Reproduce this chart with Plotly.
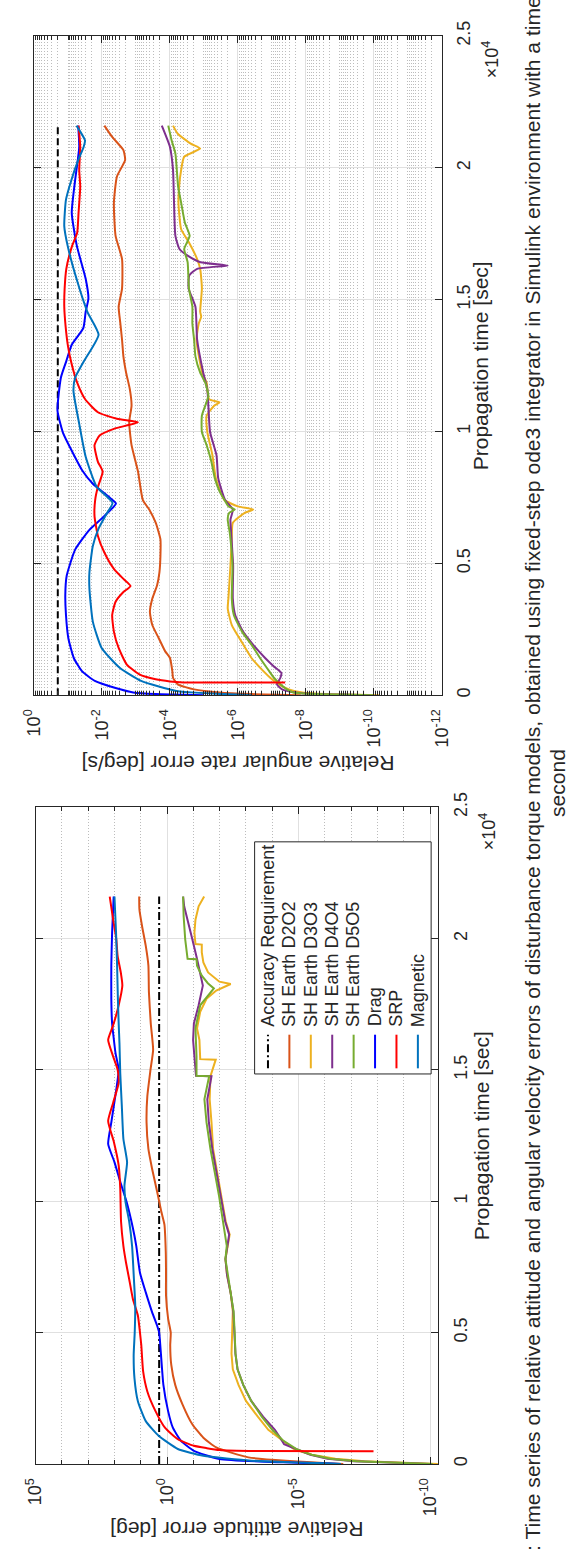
import numpy as np
import plotly.graph_objects as go

# ---------------------------------------------------------------------------
# Page geometry (pixels) -> paper coordinates
# ---------------------------------------------------------------------------
W, H = 580, 1551


def fx(px):
    return px / W


def fy(py):
    return 1 - py / H


FONT = "Liberation Sans, Arial, Helvetica, sans-serif"
INK = "#262626"

# ---------------------------------------------------------------------------
# Series names / colours (plot order = legend order)
# ---------------------------------------------------------------------------
names = ["Accuracy Requirement", "SH Earth D2O2", "SH Earth D3O3", "SH Earth D4O4",
         "SH Earth D5O5", "Drag", "SRP", "Magnetic"]
colors = ["#000000", "#D95319", "#EDB120", "#7E2F8E", "#77AC30", "#0000FF", "#FF0000", "#0072BD"]

# ---------------------------------------------------------------------------
# Relative attitude error [deg]  (time in s, error given as log10 of value)
# ---------------------------------------------------------------------------
att_req_t = [0, 21600]
att_req = [2.0, 2.0]

att_d2o2_t = [0, 250, 630, 1000, 1510, 2260, 3010, 3770, 4520, 5000, 5530, 6410, 7280, 8100, 9110,
              9610, 10240, 11240, 11990, 13000, 14000, 15010, 15770, 16770, 17960, 18970, 19720,
              20470, 21100, 21600]
att_d2o2_log = [-6.7, -3.09, -1.87, -1.38, -0.96, -0.59, -0.31, -0.16, -0.12, -0.14, -0.04, 0.04,
                0.04, 0.05, 0.10, 0.22, 0.35, 0.57, 0.71, 0.78, 0.75, 0.63, 0.53, 0.62, 0.69, 0.71,
                0.81, 0.95, 1.05, 1.06]

att_d3o3_t = [0, 40, 100, 200, 350, 550, 900, 1300, 1800, 2400, 3000, 3600, 4200, 5000, 5800, 6500,
              7200, 7800, 8300, 8730, 9230, 10240, 11120, 11990, 13000, 13880, 14760, 15390, 15410,
              16140, 16580, 17210, 17710, 18020, 18270, 18360, 18710, 19090, 19470, 19770, 19790,
              20220, 20720, 21230, 21600]
att_d3o3_log = [-10.3, -8.8, -7.5, -6.4, -5.5, -4.85, -4.4, -3.85, -3.45, -3.0, -2.72, -2.5, -2.45,
                -2.48, -2.5, -2.42, -2.28, -2.22, -2.3, -2.38, -2.23, -2.05, -1.88, -1.75, -1.69,
                -1.62, -1.65, -1.85, -1.26, -1.23, -1.14, -1.26, -1.50, -1.87, -2.42, -1.99, -1.56,
                -1.38, -1.32, -1.32, -1.08, -1.04, -1.08, -1.2, -1.41]

att_d4o4_t = [0, 40, 100, 200, 350, 550, 750, 1000, 1300, 1800, 2400, 3000, 3600, 4200, 5000, 5800,
              6500, 7200, 7800, 8300, 8730, 9230, 10240, 11120, 11990, 13000, 13880, 14760, 14780,
              15510, 16140, 16770, 17460, 18210, 18710, 19220, 19970, 20720, 21230, 21600]
att_d4o4_log = [-10.0, -8.4, -7.1, -6.1, -5.45, -4.95, -4.45, -4.3, -4.1, -3.65, -3.2, -2.9, -2.68,
                -2.6, -2.57, -2.52, -2.42, -2.28, -2.22, -2.3, -2.36, -2.21, -2.03, -1.87, -1.72,
                -1.59, -1.53, -1.69, -1.10, -1.04, -0.99, -1.02, -1.20, -1.36, -1.26, -1.14, -0.96,
                -0.77, -0.65, -0.61]

att_d5o5_t = [0, 40, 100, 200, 350, 550, 900, 1300, 1800, 2400, 3000, 3600, 4200, 5000, 5800, 6500,
              7200, 7800, 8300, 9230, 10240, 11120, 11990, 13000, 13880, 14760, 14780, 15510, 16140,
              16580, 17460, 18100, 18300, 18590, 18970, 19210, 19230, 19970, 20850, 21600]
att_d5o5_log = [-10.1, -8.5, -7.2, -6.2, -5.5, -4.95, -4.4, -4.0, -3.6, -3.2, -2.9, -2.68, -2.6,
                -2.57, -2.53, -2.42, -2.3, -2.22, -2.27, -2.14, -1.97, -1.81, -1.65, -1.50, -1.42,
                -1.60, -1.12, -1.12, -1.08, -1.08, -1.26, -1.78, -1.55, -1.32, -1.14, -1.12, -0.78,
                -0.69, -0.63, -0.61]

att_drag_t = [0, 60, 190, 500, 880, 1380, 2010, 3010, 4140, 5000, 5270, 5780, 6530, 7280, 8290, 8980,
              9980, 10740, 11490, 12180, 13000, 14260, 15010, 15640, 16390, 16770, 17710, 18970,
              20220, 21600]
att_drag_log = [-6.61, -4.42, -1.99, -1.02, -0.53, -0.22, -0.04, 0.14, 0.23, 0.30, 0.38, 0.57, 0.81,
                1.03, 1.17, 1.30, 1.54, 1.78, 2.0, 2.24, 2.12, 1.93, 1.84, 1.96, 2.05, 2.09, 2.12,
                2.12, 2.09, 2.03]

att_srp_t = [480, 490, 530, 600, 690, 940, 1380, 2010, 2760, 3520, 4520, 5000, 5650, 6280, 7030,
             7660, 8290, 9230, 10490, 11370, 12250, 13060, 13750, 14510, 15010, 15510, 16140, 16510,
             16700, 17460, 18210, 18710, 19340, 19970, 20720, 21600]
att_srp_log = [-7.85, -3.5, -2.0, -1.51, -1.02, -0.41, 0.08, 0.44, 0.75, 0.91, 0.98, 1.03, 1.11, 1.30,
               1.44, 1.56, 1.66, 1.75, 1.78, 1.84, 2.02, 2.24, 2.05, 1.84, 1.88, 2.05, 2.24, 2.12,
               2.05, 1.84, 1.70, 1.76, 1.88, 1.93, 2.05, 2.18]

att_mag_t = [0, 126, 310, 570, 1070, 1630, 2390, 3270, 4140, 5000, 6030, 7030, 8290, 9230, 9980,
             10600, 11490, 12370, 13630, 14880, 16010, 16770, 17710, 18970, 20220, 21600]
att_mag_log = [-6.61, -3.21, -1.38, -0.41, 0.32, 0.81, 1.11, 1.24, 1.27, 1.23, 1.21, 1.26, 1.33, 1.44,
               1.58, 1.62, 1.52, 1.66, 1.72, 1.78, 1.81, 1.84, 1.87, 1.90, 1.94, 2.0]

# ---------------------------------------------------------------------------
# Relative angular rate error [deg/s]
# ---------------------------------------------------------------------------
rate_req_t = [0, 21600]
rate_req = [0.2, 0.2]

rate_d2o2_t = [0, 40, 100, 220, 410, 660, 910, 1410, 1660, 2160, 2660, 3160, 3660, 4160, 4660, 5290,
               5910, 6540, 7040, 7410, 8480, 9480, 10350, 10980, 11600, 12230, 12850, 13480, 14100,
               14730, 15420, 16540, 17420, 18670, 19670, 20290, 20670, 21170, 21600]
rate_d2o2_log = [-7.85, -6.4, -5.46, -4.71, -4.23, -4.09, -4.07, -4.0, -3.86, -3.67, -3.48, -3.41,
                 -3.48, -3.62, -3.69, -3.72, -3.72, -3.58, -3.39, -3.2, -3.06, -2.87, -2.80, -2.87,
                 -2.82, -2.71, -2.63, -2.59, -2.54, -2.49, -2.59, -2.59, -2.4, -2.35, -2.44, -2.68,
                 -2.63, -2.30, -2.07]

rate_d3o3_t = [0, 40, 100, 220, 410, 660, 910, 1410, 2040, 2660, 3290, 3660, 4910, 5910, 6540, 6910,
               7040, 7160, 7410, 8230, 9100, 9980, 10600, 10980, 11100, 11230, 11850, 12230, 13480,
               14100, 14350, 14540, 15420, 16170, 16540, 17170, 17670, 18670, 19290, 19920, 20420,
               20730, 20920, 21290, 21600]
rate_d3o3_log = [-10.15, -8.6, -7.9, -7.5, -7.2, -6.95, -6.75, -6.4, -6.1, -5.82, -5.7, -5.72, -5.78,
                 -5.82, -5.85, -6.2, -6.45, -6.0, -5.6, -5.35, -5.25, -5.1, -5.08, -5.3, -5.46,
                 -5.15, -5.08, -4.95, -4.78, -4.85, -4.92, -4.89, -4.94, -4.89, -4.8, -4.56, -4.33,
                 -4.25, -4.27, -4.33, -4.42, -4.89, -4.61, -4.23, -4.09]

rate_d4o4_t = [0, 40, 100, 220, 410, 660, 840, 1100, 1410, 1910, 2410, 3040, 3660, 4910, 6160, 6660,
               7040, 7410, 8230, 9100, 9980, 10980, 11600, 12230, 13480, 14730, 15420, 15920, 16170,
               16290, 16420, 16670, 16920, 17420, 18670, 19920, 20790, 21600]
rate_d4o4_log = [-9.9, -8.2, -7.7, -7.3, -7.15, -7.25, -7.28, -7.05, -6.8, -6.45, -6.15, -5.92,
                 -5.85, -5.86, -5.8, -5.78, -5.85, -5.62, -5.42, -5.37, -5.18, -5.13, -5.1, -4.98,
                 -4.8, -4.75, -4.55, -4.57, -4.8, -5.7, -4.9, -4.52, -4.28, -4.16, -4.12, -4.09,
                 -4.0, -3.76]

rate_d5o5_t = [0, 40, 100, 220, 410, 660, 910, 1410, 1910, 2410, 3040, 3660, 4910, 6160, 6660, 6910,
               7040, 7160, 7410, 7730, 8230, 8850, 9480, 9980, 10600, 10980, 11350, 11850, 12230,
               12850, 13480, 14100, 14730, 15420, 16420, 16920, 17420, 17920, 18670, 19290, 20540,
               21040, 21600]
rate_d5o5_log = [-10.0, -8.29, -7.63, -7.44, -7.25, -7.06, -6.92, -6.65, -6.4, -6.12, -5.88, -5.82,
                 -5.84, -5.76, -5.7, -5.74, -5.91, -5.72, -5.6, -5.46, -5.32, -5.22, -5.08, -4.94,
                 -4.94, -5.04, -5.13, -5.04, -4.89, -4.75, -4.71, -4.66, -4.66, -4.56, -4.52, -4.42,
                 -4.58, -4.44, -4.33, -4.24, -4.16, -4.05, -3.95]

rate_drag_t = [0, 40, 100, 270, 540, 910, 1410, 2160, 3040, 3790, 4520, 5520, 6270, 6770, 7270, 7520,
               8020, 8520, 9270, 9960, 10790, 12040, 12670, 13290, 13920, 14540, 15040, 15790, 17040,
               18290, 19540, 20790, 21600]
rate_drag_log = [-5.0, -3.58, -2.92, -2.4, -1.79, -1.41, -1.17, -1.01, -0.94, -0.92, -0.96, -1.21,
                 -1.63, -2.05, -2.41, -2.2, -1.73, -1.42, -1.11, -0.85, -0.69, -0.79, -0.95, -1.11,
                 -1.45, -1.52, -1.60, -1.52, -1.26, -1.11, -1.21, -1.33, -1.30]

rate_srp_t = [480, 485, 520, 600, 790, 1160, 1790, 2410, 3040, 3540, 3910, 4140, 4410, 4790, 5410,
              6040, 6790, 7410, 7900, 8480, 8850, 9480, 9850, 10100, 10350, 10480, 10730, 11230,
              11850, 12600, 13230, 13980, 14730, 15400, 16170, 17040, 17540, 18290, 19290, 19920,
              20790, 21600]
rate_srp_log = [-7.39, -4.4, -4.0, -3.58, -3.1, -2.73, -2.49, -2.35, -2.30, -2.40, -2.63, -2.84,
                -2.63, -2.35, -2.07, -1.88, -1.78, -1.80, -1.88, -2.02, -1.88, -1.78, -1.93, -2.35,
                -3.06, -2.44, -1.88, -1.50, -1.27, -1.10, -1.0, -0.93, -0.89, -0.9, -0.95, -1.12,
                -1.27, -1.31, -1.36, -1.33, -1.36, -1.31]

rate_mag_t = [0, 160, 540, 1040, 1790, 2790, 4040, 4660, 5660, 6290, 6910, 7290, 7910, 9040, 10290,
              11540, 12040, 12670, 13670, 14540, 15790, 17040, 17790, 18790, 19540, 20290, 20790,
              21040, 21600]
rate_mag_log = [-6.4, -4.19, -3.15, -2.52, -1.99, -1.73, -1.63, -1.63, -1.73, -1.89, -2.15, -2.31,
                -1.84, -1.52, -1.33, -1.16, -1.21, -1.47, -1.9, -1.57, -1.25, -0.99, -0.89, -0.94,
                -1.1, -1.3, -1.46, -1.50, -1.25]

# Axis tick labels
time_ticks = [0, 5000, 10000, 15000, 20000, 25000]
time_ticktext = ["0", "0.5", "1", "1.5", "2", "2.5"]
att_decades = [5, 0, -5, -10]
rate_decades = [0, -2, -4, -6, -8, -10, -12]

# ---------------------------------------------------------------------------
# Figure
# ---------------------------------------------------------------------------
fig = go.Figure()

# (time, linear values, log10 values, line shape)
att_series = [
    (att_req_t, att_req, None, "linear"),
    (att_d2o2_t, None, att_d2o2_log, "spline"),
    (att_d3o3_t, None, att_d3o3_log, "linear"),
    (att_d4o4_t, None, att_d4o4_log, "linear"),
    (att_d5o5_t, None, att_d5o5_log, "linear"),
    (att_drag_t, None, att_drag_log, "spline"),
    (att_srp_t, None, att_srp_log, "spline"),
    (att_mag_t, None, att_mag_log, "spline"),
]
rate_series = [
    (rate_req_t, rate_req, None, "linear"),
    (rate_d2o2_t, None, rate_d2o2_log, "spline"),
    (rate_d3o3_t, None, rate_d3o3_log, "spline"),
    (rate_d4o4_t, None, rate_d4o4_log, "spline"),
    (rate_d5o5_t, None, rate_d5o5_log, "spline"),
    (rate_drag_t, None, rate_drag_log, "spline"),
    (rate_srp_t, None, rate_srp_log, "spline"),
    (rate_mag_t, None, rate_mag_log, "spline"),
]


def add_panel(series, xa, ya, req_dash):
    for i, (t, vals, logs, shape) in enumerate(series):
        err = vals if vals is not None else (10.0 ** np.asarray(logs)).tolist()
        dash = req_dash if i == 0 else "solid"
        line = dict(color=colors[i], width=2, dash=dash, shape=shape)
        if shape == "spline":
            line["smoothing"] = 0.5
        fig.add_trace(go.Scatter(
            x=err, y=t, mode="lines", name=names[i], showlegend=False,
            line=line, xaxis=xa, yaxis=ya, hoverinfo="skip"))


# angular rate panel (upper) and attitude panel (lower)
add_panel(rate_series, "x", "y", "7px,4px")
add_panel(att_series, "x2", "y2", "8px,3px,2px,3px")

# minor decade/sub-decade grid positions
rate_minor = [m * 10.0 ** e for e in range(-12, 1) for m in range(1, 10)
              if not (m == 1 and e % 2 == 0)]
rate_minor = [v for v in rate_minor if 1e-12 <= v <= 1]
att_minor = [10.0 ** e for e in range(-10, 6) if e not in att_decades]

common_axis = dict(
    showline=True, linecolor=INK, linewidth=1, mirror="ticks",
    ticks="inside", ticklen=7, tickwidth=1, tickcolor=INK,
    showgrid=True, gridcolor="#e0e0e0", gridwidth=1, zeroline=False,
    tickfont=dict(family=FONT, size=18, color=INK),
)


def log_axis(domain, anchor, rng, decades, minor_vals):
    return dict(
        common_axis, type="log", domain=domain, anchor=anchor, range=rng,
        tickmode="array", tickvals=[10.0 ** d for d in decades],
        ticktext=["10<sup>%d</sup>" % d for d in decades],
        tickangle=-90, side="bottom", ticklabelstandoff=6,
        minor=dict(tickmode="array", tickvals=minor_vals, ticks="inside", ticklen=4,
                   tickcolor=INK, showgrid=True, gridcolor="#bcbcbc",
                   griddash="1px,2px", gridwidth=1),
    )


def time_axis(domain, anchor):
    return dict(
        common_axis, type="linear", domain=domain, anchor=anchor, range=[0, 25000],
        tickmode="array", tickvals=time_ticks, ticktext=time_ticktext,
        tickangle=-90, side="right", ticklabelstandoff=6,
    )


fig.update_layout(
    width=W, height=H, autosize=False,
    margin=dict(l=0, r=0, t=0, b=0, pad=0),
    paper_bgcolor="white", plot_bgcolor="white",
    font=dict(family=FONT, color=INK),
    showlegend=False,
    xaxis=log_axis([fx(21.9), fx(446.5)], "y", [0, -12], rate_decades, rate_minor),
    yaxis=time_axis([fy(687.7), fy(21.2)], "x"),
    xaxis2=log_axis([fx(23.5), fx(442.5)], "y2", [5, -10.3], att_decades, att_minor),
    yaxis2=time_axis([fy(1465), fy(801)], "x2"),
)

# ---------------------------------------------------------------------------
# Axis titles, exponent labels, caption
# ---------------------------------------------------------------------------
ann = []


def text(x, y, s, size, angle, xanchor="center", yanchor="middle"):
    ann.append(dict(x=fx(x), y=fy(y), xref="paper", yref="paper", text=s, showarrow=False,
                    textangle=angle, xanchor=xanchor, yanchor=yanchor,
                    font=dict(family=FONT, size=size, color=INK)))


text(234, 757, "Relative angular rate error [deg/s]", 21, 180)
text(233, 1532, "Relative attitude error [deg]", 21, 180)
text(487, 354.5, "Propagation time [sec]", 21, -90)
text(488, 1133, "Propagation time [sec]", 21, -90)
text(497, 44.5, "\u00d710<sup>4</sup>", 18, -90)
text(495, 825, "\u00d710<sup>4</sup>", 18, -90)

caption1 = ("Figure 4.3: Time series of relative attitude and angular velocity errors of disturbance "
            "torque models, obtained using fixed-step ode3 integrator in Simulink environment "
            "with a time step of 1")
caption2 = "second"
text(541.5, 1651, caption1, 21.1, -90, yanchor="bottom")
text(567, 777, caption2, 21.1, -90)

# ---------------------------------------------------------------------------
# Legend of the attitude panel (vertical entries)
# ---------------------------------------------------------------------------
shapes = [dict(type="rect", xref="paper", yref="paper", x0=fx(251.6), x1=fx(435.4),
               y0=fy(1070.7), y1=fy(836), line=dict(color=INK, width=1),
               fillcolor="white", layer="above")]
leg_dash = ["8px,3px,2px,3px"] + ["solid"] * 7
for i, name in enumerate(names):
    cx = 265.5 + 22.3 * i
    shapes.append(dict(type="line", xref="paper", yref="paper", x0=fx(cx), x1=fx(cx),
                       y0=fy(1065), y1=fy(1031), layer="above",
                       line=dict(color=colors[i], width=2, dash=leg_dash[i])))
    text(cx, 1025, name, 18, -90, yanchor="bottom")

fig.update_layout(annotations=ann, shapes=shapes)

fig.write_html("out.html")
